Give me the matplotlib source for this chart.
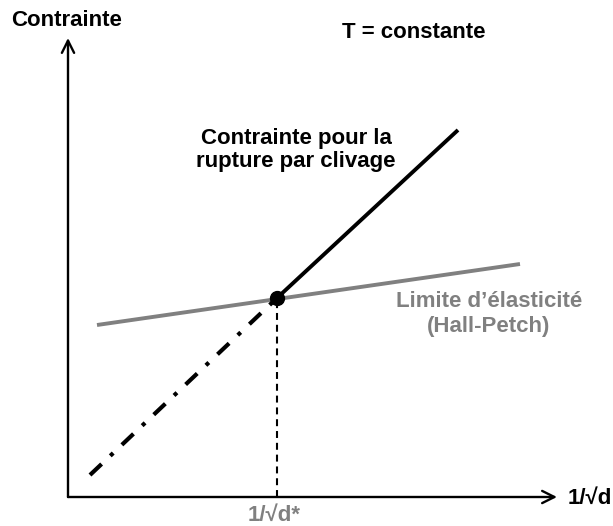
import matplotlib
matplotlib.use("Agg")
import matplotlib.pyplot as plt

plt.rcParams['font.family'] = ['Liberation Sans', 'DejaVu Sans']
plt.rcParams['lines.scale_dashes'] = False

# Schematic values (arbitrary units, origin at the axes corner)
hp_x = [29, 452]          # Hall-Petch yield stress line
hp_y = [172, 233]
cleave_x = [209, 390]     # cleavage fracture stress (solid part)
cleave_y = [199, 367]
cleave_ext_x = [22, 209]  # extrapolated part (dash-dot)
cleave_ext_y = [22, 199]
d_star = (209, 199)       # transition point 1/sqrt(d*)
axis_len = (489, 459)

gray = '#808080'

fig = plt.figure(figsize=(6.13, 5.26), dpi=100)
ax = fig.add_axes([0, 0, 1, 1])
ax.set_xlim(-68, 613 - 68)
ax.set_ylim(497 - 526, 497)
ax.axis('off')

# Axes with open arrow heads
arrow = dict(arrowstyle='->', lw=1.7, color='black', mutation_scale=22,
             shrinkA=0, shrinkB=0)
ax.annotate('', xy=(axis_len[0], 0), xytext=(0, 0), arrowprops=arrow)
ax.annotate('', xy=(0, axis_len[1]), xytext=(0, 0), arrowprops=arrow)

# Hall-Petch line
ax.plot(hp_x, hp_y, color=gray, lw=2.8, solid_capstyle='butt')

# Cleavage line and its extrapolation
ax.plot(cleave_x, cleave_y, color='black', lw=2.8, solid_capstyle='butt')
ax.plot(cleave_ext_x, cleave_ext_y, color='black', lw=3.0,
        dashes=(11.5, 8.6, 2.9, 8.6), dash_capstyle='butt')

# Vertical drop to 1/sqrt(d*)
ax.plot([d_star[0], d_star[0]], [0, d_star[1]], color='black', lw=1.5,
        dashes=(5, 3.5))
ax.plot(*d_star, 'o', color='black', markersize=10, zorder=5)

# Labels
bold = dict(fontweight='bold', fontsize=16)
ax.text(-1, 497 - 21, 'Contrainte', ha='center', va='center', **bold)
ax.text(346, 497 - 33, 'T = constante', ha='center', va='center', **bold)
ax.text(228, 497 - 150, 'Contrainte pour la\nrupture par clivage',
        ha='center', va='center', linespacing=1.18, **bold)
ax.text(421, 497 - 314, 'Limite d\u2019élasticité\n(Hall-Petch)',
        ha='center', va='center', linespacing=1.2, color=gray, **bold)
ax.text(d_star[0] - 3, 497 - 515, '1/\u221ad*', ha='center', va='center',
        color=gray, **bold)
ax.text(522, 497 - 498, '1/\u221ad', ha='center', va='center', **bold)

fig.savefig('out.png', dpi=100)
